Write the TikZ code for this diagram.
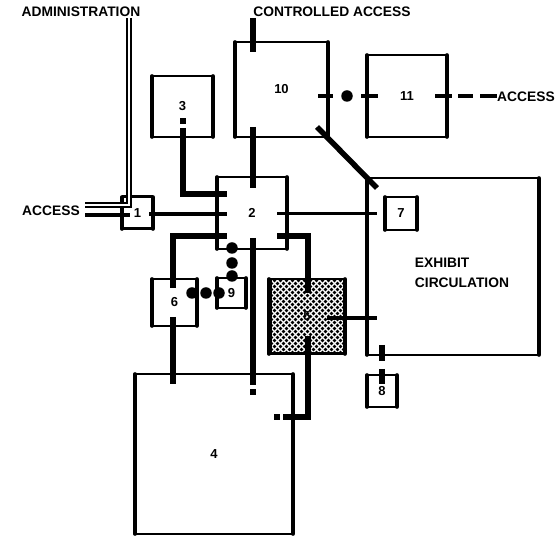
\documentclass[tikz,border=0pt]{standalone}
\usepackage{fontspec}
\setmainfont{Liberation Sans}
\usepackage{tikz}
\usetikzlibrary{patterns}
\pgfdeclarepatternformonly{roomdots}{\pgfqpoint{-1pt}{-1pt}}{\pgfqpoint{7pt}{7pt}}{\pgfqpoint{6pt}{6pt}}{
  \pgfpathcircle{\pgfqpoint{1.5pt}{1.5pt}}{1.9pt}
  \pgfpathcircle{\pgfqpoint{4.5pt}{4.5pt}}{1.9pt}
  \pgfusepath{fill}
}
\tikzset{
  room/.style={draw, line width=1.6pt, inner sep=0pt, outer sep=0pt, font=\bfseries\fontsize{13}{15}\selectfont},
  wall/.style={line width=3.6pt, line cap=round},
  door/.style={line width=5.5pt},
  link/.style={line width=3.8pt},
  doublelink/.style={double, line width=1.6pt, double distance=2.2pt},
  blob/.style={circle, fill, inner sep=0pt, minimum size=11.5pt},
  stub/.style={fill, inner sep=0pt, minimum size=6.5pt},
  caption/.style={font=\bfseries\fontsize{13.8}{20}\selectfont, inner sep=0pt}
}
\begin{document}
\begin{tikzpicture}[x=1pt, y=-1pt]
  \useasboundingbox (0,0) rectangle (558,537);
  % rooms
  \node[room, minimum width=93pt, minimum height=95pt] (r10) at (281.5,89.5) {10};
  \node[room, minimum width=80pt, minimum height=82pt] (r11) at (407,96) {11};
  \node[room, minimum width=61pt, minimum height=61pt] (r3) at (182.5,106.5) {3};
  \node[room, minimum width=31pt, minimum height=32pt] (r1) at (137.5,213) {1};
  \node[room, minimum width=70pt, minimum height=72pt] (r2) at (252,213) {2};
  \node[room, minimum width=172pt, minimum height=177pt] (r12) at (453,266.5) {};
  \node[room, minimum width=32pt, minimum height=33pt] (r7) at (401,213.5) {7};
  \node[room, minimum width=45pt, minimum height=47pt] (r6) at (174.5,302.5) {6};
  \node[room, minimum width=29pt, minimum height=30pt] (r9) at (231.5,293) {9};
  \node[room, pattern=roomdots, minimum width=76pt, minimum height=75pt] (r5) at (307,316.5) {5};
  \node[room, minimum width=30pt, minimum height=32pt] (r8) at (382,391) {8};
  \node[room, minimum width=158pt, minimum height=160pt] (r4) at (214,454) {4};
  \foreach \rn in {r10,r11,r3,r1,r2,r12,r7,r6,r9,r5,r8,r4} {
    \draw[wall] (\rn.north west) -- (\rn.south west);
    \draw[wall] (\rn.north east) -- (\rn.south east);
  }
  \draw[line width=3pt] (r1.north west) -- (r1.north east) (r1.south west) -- (r1.south east);
  \draw[line width=2.6pt] (r7.north west) -- (r7.north east) (r7.south west) -- (r7.south east);
  \draw[line width=5pt] (r5.north west) -- (r5.south west);
  \draw[line width=3pt] (r5.south west) -- (r5.south east);
  % free ends
  \coordinate (ctl) at (253,18);
  \coordinate (ctlin) at (253,52);
  \coordinate (a10) at (253,127);
  \coordinate (a2) at (253,188);
  \coordinate (a3) at (183,128);
  \coordinate (w3) at (227,194);
  \coordinate (e1) at (149,214);
  \coordinate (w1) at (227,214);
  \coordinate (e2) at (277,214);
  \coordinate (w7) at (377,214);
  \coordinate (w6) at (227,236);
  \coordinate (t6) at (173,288);
  \coordinate (b6) at (173,317);
  \coordinate (t4) at (173,384);
  \coordinate (e6) at (277,236);
  \coordinate (t5) at (308,293);
  \coordinate (b5) at (308,336);
  \coordinate (e4) at (283,417);
  \coordinate (b2) at (253,238);
  \coordinate (m4) at (253,385);
  \coordinate (e5) at (327,318);
  \coordinate (w12) at (377,318);
  \coordinate (b12) at (382,345);
  \coordinate (c12) at (382,361);
  \coordinate (t8) at (382,369);
  \coordinate (i8) at (382,384);
  \coordinate (d10a) at (318,96);
  \coordinate (d10b) at (333,96);
  \coordinate (d11a) at (361,96);
  \coordinate (d11b) at (378,96);
  \coordinate (o1a) at (435,96);
  \coordinate (o1b) at (452,96);
  \coordinate (o2a) at (458,96);
  \coordinate (o2b) at (473,96);
  \coordinate (o3a) at (480,96);
  \coordinate (o3b) at (497,96);
  \coordinate (dg10) at (317,127);
  \coordinate (dg12) at (377,188);
  \coordinate (adm) at (129,18);
  \coordinate (acc) at (85,205);
  \coordinate (acc2) at (85,215);
  \coordinate (in1) at (130,215);
  % connectors
  \draw[door] (ctl) -- (ctlin);
  \draw[door] (a10) -- (a2);
  \draw[door] (a3) |- (w3);
  \draw[link] (e1) -- (w1);
  \draw[line width=3pt] (e2) -- (w7);
  \draw[door] (w6) -| (t6);
  \draw[door] (b6) -- (t4);
  \draw[door] (e6) -| (t5);
  \draw[door] (b5) |- (e4);
  \draw[door] (b2) -- (m4);
  \draw[link] (e5) -- (w12);
  \draw[door] (b12) -- (c12);
  \draw[door] (t8) -- (i8);
  \draw[link] (d10a) -- (d10b);
  \draw[link] (d11a) -- (d11b);
  \draw[door, line width=4.5pt] (o1a) -- (o1b);
  \draw[door, line width=4.5pt] (o2a) -- (o2b);
  \draw[door, line width=4.5pt] (o3a) -- (o3b);
  \draw[door] (dg10) -- (dg12);
  \draw[doublelink] (adm) |- (acc);
  \draw[door, line width=4.5pt] (acc2) -- (in1);
  % marks
  \node[stub] (s3) at (183,121) {};
  \node[stub] (s4) at (253,392) {};
  \node[stub] (s5) at (277,417) {};
  \node[blob] (b1) at (347,96) {};
  \node[blob] (b2a) at (232,248) {};
  \node[blob] (b2b) at (232,263) {};
  \node[blob] (b2c) at (232,276) {};
  \node[blob] (b6a) at (192,293) {};
  \node[blob] (b6b) at (206,293) {};
  \node[blob] (b6c) at (219,293) {};
  % captions
  \node[caption] (tadm) at (81,12) {ADMINISTRATION};
  \node[caption] (tctl) at (332,12) {CONTROLLED ACCESS};
  \node[caption] (tacc) at (51,211) {ACCESS};
  \node[caption] (tacc2) at (526,97) {ACCESS};
  \node[caption, align=left] (texh) at (462,273) {EXHIBIT\\CIRCULATION};
\end{tikzpicture}
\end{document}
